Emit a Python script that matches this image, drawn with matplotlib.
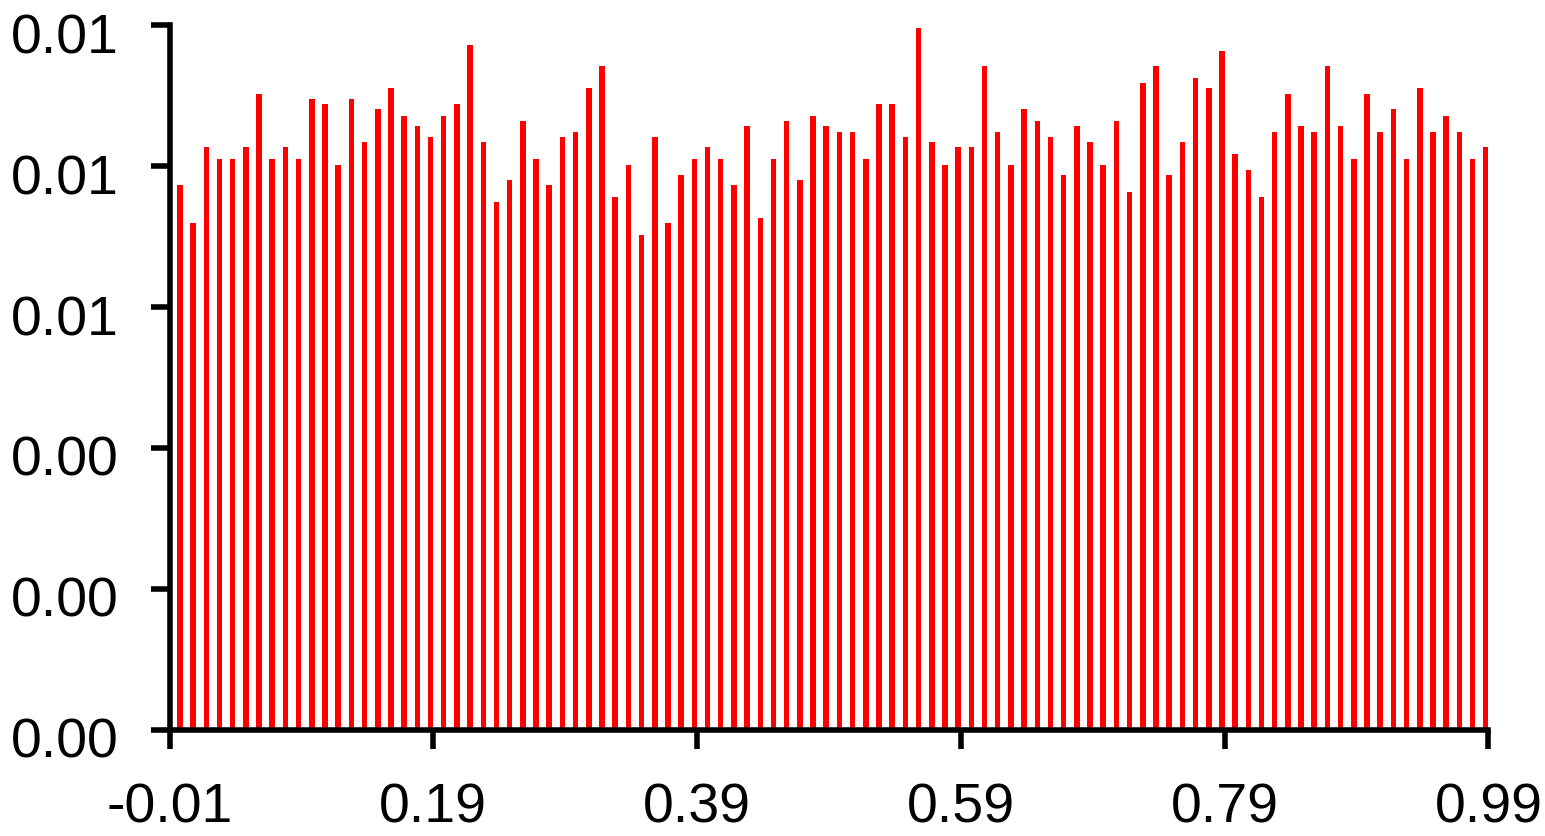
import matplotlib
matplotlib.use("Agg")
import matplotlib.pyplot as plt
import matplotlib.transforms as mtransforms
import numpy as np

# bar heights (x 1e-3), one per 0.01 step from 0.00 to 0.99
heights = [
    7.73, 7.19, 8.27, 8.11, 8.11, 8.27, 9.03, 8.11, 8.27, 8.11,
    8.95, 8.88, 8.02, 8.95, 8.34, 8.81, 9.11, 8.72, 8.57, 8.41,
    8.72, 8.88, 9.73, 8.34, 7.49, 7.80, 8.65, 8.11, 7.73, 8.41,
    8.49, 9.11, 9.42, 7.57, 8.02, 7.03, 8.41, 7.19, 7.88, 8.11,
    8.27, 8.11, 7.73, 8.57, 7.26, 8.11, 8.65, 7.80, 8.72, 8.57,
    8.49, 8.49, 8.11, 8.88, 8.88, 8.41, 9.96, 8.34, 8.02, 8.27,
    8.27, 9.42, 8.49, 8.02, 8.81, 8.65, 8.41, 7.88, 8.57, 8.34,
    8.02, 8.65, 7.64, 9.19, 9.42, 7.88, 8.34, 9.26, 9.11, 9.64,
    8.18, 7.95, 7.57, 8.49, 9.03, 8.57, 8.49, 9.42, 8.57, 8.11,
    9.03, 8.49, 8.81, 8.11, 9.11, 8.49, 8.72, 8.49, 8.11, 8.27,
]
xs = [i / 100 for i in range(100)]

xticks = [-0.01, 0.19, 0.39, 0.59, 0.79, 0.99]
xtick_labels = ["-0.01", "0.19", "0.39", "0.59", "0.79", "0.99"]
yticks = [0.0, 0.002, 0.004, 0.006, 0.008, 0.010]
ytick_labels = ["0.00", "0.00", "0.00", "0.01", "0.01", "0.01"]

plt.rcParams['font.family'] = ['Liberation Sans', 'DejaVu Sans']

fig = plt.figure(figsize=(15.45, 8.36), dpi=100)
ax = fig.add_axes([0.10971, 0.12739, 0.85372, 0.84211])

vals = np.array(heights) * 1e-3
ax.bar(xs, vals, width=-0.0042, align='edge', color='#ff0000', linewidth=0)

ax.set_xlim(-0.01, 0.99)
ax.set_ylim(0, 0.010)
ax.set_xticks(xticks)
ax.set_xticklabels(xtick_labels)
ax.set_yticks(yticks)
ax.set_yticklabels(ytick_labels)

for s in ['top', 'right']:
    ax.spines[s].set_visible(False)
for s in ['left', 'bottom']:
    ax.spines[s].set_linewidth(4.0)
    ax.spines[s].set_capstyle('projecting')

ax.tick_params(axis='both', direction='out', length=13.5, width=4.0,
               labelsize=40, color='black')
ax.tick_params(axis='y', pad=23)
ax.tick_params(axis='x', pad=25)

# labels sit a little below their ticks in the original
offset = mtransforms.ScaledTranslation(0, -8 / 100, fig.dpi_scale_trans)
for lab in ax.get_yticklabels():
    lab.set_transform(lab.get_transform() + offset)

fig.savefig("out.png", dpi=100)
